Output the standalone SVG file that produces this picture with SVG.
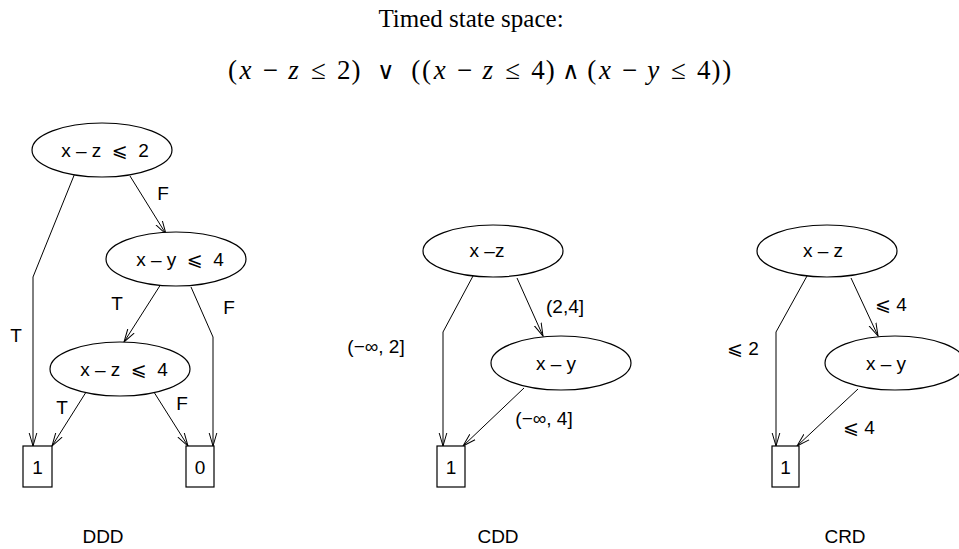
<svg xmlns="http://www.w3.org/2000/svg" width="959" height="549" viewBox="0 0 959 549">
<defs>
<marker id="arr" markerUnits="userSpaceOnUse" markerWidth="14" markerHeight="12" refX="13" refY="5" orient="auto" viewBox="0 0 14 10">
<path d="M0,1.2 L13,5 L0,8.8" fill="none" stroke="#000" stroke-width="1"/>
</marker>
</defs>
<style>
.n ellipse, .n rect { fill: #fff; stroke: #000; stroke-width: 1.2; }
.t { font-family: "Liberation Sans", "DejaVu Sans", sans-serif; font-size: 19px; fill: #000; text-anchor: middle; }
.c path { fill: none; stroke: #000; stroke-width: 1; }
.c path.a { marker-end: url(#arr); }
.s { font-family: "Liberation Serif", "DejaVu Serif", serif; fill: #000; text-anchor: middle; }
.i { font-style: italic; }
.op { font-family: "DejaVu Sans", sans-serif; font-weight: 200; font-size: 24px; }
</style>
<rect width="959" height="549" fill="#fff"/>
<text class="s" x="471" y="27" font-size="25">Timed state space:</text>
<text id="formula" class="s" y="79" font-size="27"><tspan x="232.4">(</tspan><tspan x="245.6" class="i">x</tspan><tspan x="270.4">−</tspan><tspan x="293.6" class="i">z</tspan><tspan x="318.5">≤</tspan><tspan x="343.8">2</tspan><tspan x="356.1">)</tspan><tspan x="385.9" class="op">∨</tspan><tspan x="415.8">(</tspan><tspan x="426.5">(</tspan><tspan x="439.8" class="i">x</tspan><tspan x="464.5">−</tspan><tspan x="487.8" class="i">z</tspan><tspan x="512.7">≤</tspan><tspan x="538.0">4</tspan><tspan x="550.3">)</tspan><tspan x="571.0" class="op">∧</tspan><tspan x="591.7">(</tspan><tspan x="605.0" class="i">x</tspan><tspan x="629.7">−</tspan><tspan x="653.3" class="i">y</tspan><tspan x="678.5">≤</tspan><tspan x="703.8">4</tspan><tspan x="716.1">)</tspan><tspan x="726.8">)</tspan></text>

<g class="c" id="connectors">
<path class="a" d="M75,173 L33,277 L33,446"/>
<path class="a" d="M130,176 L166,234"/>
<path class="a" d="M161,284 L124,342"/>
<path class="a" d="M191,287 L213,337 L213,446"/>
<path class="a" d="M88,389 L52,446"/>
<path class="a" d="M152,389 L188,446"/>

<path class="a" d="M473,276 L443,332 L443,446"/>
<path class="a" d="M517,278 L543,336"/>
<path class="a" d="M524,388 L463,446"/>

<path class="a" d="M807,276 L776,332 L776,446"/>
<path class="a" d="M851,278 L878,336"/>
<path class="a" d="M858,389 L797,446"/>
</g>

<g class="t" id="edge-labels">
<text x="163" y="200">F</text>
<text x="117" y="310">T</text>
<text x="229" y="314">F</text>
<text x="16" y="342">T</text>
<text x="62" y="414">T</text>
<text x="182" y="410">F</text>
<text x="376" y="353">(−∞, 2]</text>
<text x="565" y="313">(2,4]</text>
<text x="544" y="425">(−∞, 4]</text>
<text x="891" y="311">⩽ 4</text>
<text x="743" y="355">⩽ 2</text>
<text x="859" y="434">⩽ 4</text>
</g>

<g class="n" id="ddd-n1"><ellipse cx="102" cy="150" rx="70" ry="27"/><text class="t" x="105" y="157" xml:space="preserve">x – z  ⩽  2</text></g>
<g class="n" id="ddd-n2"><ellipse cx="176" cy="259" rx="70" ry="27"/><text class="t" x="180" y="266" xml:space="preserve">x – y  ⩽  4</text></g>
<g class="n" id="ddd-n3"><ellipse cx="120" cy="369" rx="70" ry="27"/><text class="t" x="124" y="376" xml:space="preserve">x – z  ⩽  4</text></g>
<g class="n" id="ddd-one"><rect x="23" y="446" width="29" height="41"/><text class="t" x="37.5" y="474">1</text></g>
<g class="n" id="ddd-zero"><rect x="186" y="446" width="28" height="41"/><text class="t" x="200" y="474">0</text></g>

<g class="n" id="cdd-n1"><ellipse cx="493" cy="251" rx="70" ry="26"/><text class="t" x="487" y="257">x –z</text></g>
<g class="n" id="cdd-n2"><ellipse cx="561" cy="363" rx="70" ry="27"/><text class="t" x="556" y="370">x – y</text></g>
<g class="n" id="cdd-one"><rect x="437" y="446" width="28" height="41"/><text class="t" x="451" y="474">1</text></g>

<g class="n" id="crd-n1"><ellipse cx="827" cy="251" rx="70" ry="26"/><text class="t" x="823" y="257">x – z</text></g>
<g class="n" id="crd-n2"><ellipse cx="895" cy="363" rx="70" ry="27"/><text class="t" x="886" y="370">x – y</text></g>
<g class="n" id="crd-one"><rect x="772" y="446" width="27" height="41"/><text class="t" x="785.5" y="474">1</text></g>

<g class="t" id="titles">
<text x="103" y="543">DDD</text>
<text x="498" y="543">CDD</text>
<text x="845" y="543">CRD</text>
</g>
</svg>
